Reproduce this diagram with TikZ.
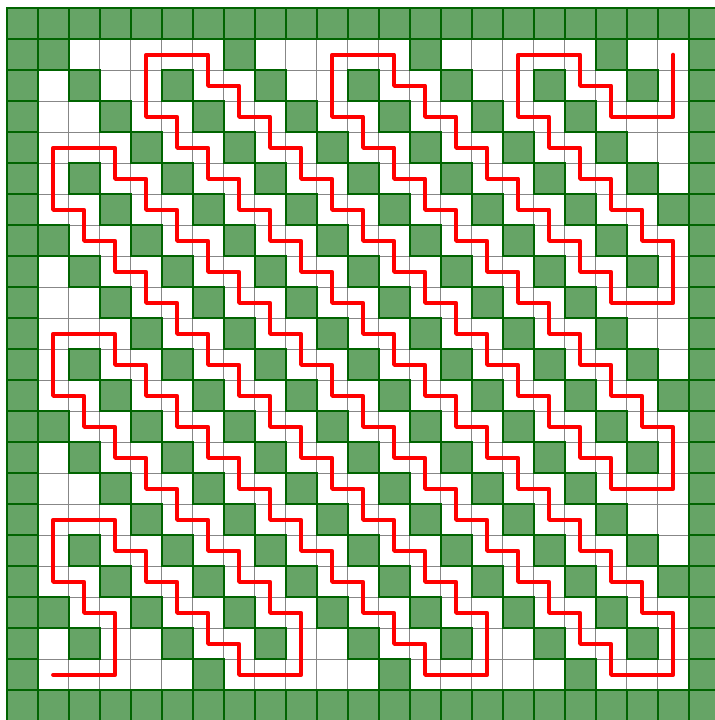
\documentclass[tikz,border=0pt]{standalone}
\definecolor{cellgreen}{RGB}{102,164,102}
\definecolor{edgegreen}{RGB}{0,100,0}
\definecolor{gridgray}{RGB}{135,135,135}
\tikzset{
  greencell/.style={fill=cellgreen, draw=edgegreen, line width=1.7pt},
  gridline/.style={draw=gridgray, line width=1.4pt},
  route/.style={draw=red, line width=3.8pt, line join=round, line cap=round}
}
\begin{document}
\begin{tikzpicture}[x=1cm,y=-1cm]
\useasboundingbox (-0.216,-0.268) rectangle (22.848,22.958);
\clip (-0.216,-0.268) rectangle (22.848,22.958);
% gray grid of all cells
\draw[gridline] (0,0) grid (23,23);
% green cells
\foreach \c in {0,...,22}{
  \foreach \r in {0,...,22}{
    \pgfmathtruncatemacro\ex{((\r==1 && mod(\c,6)==4) || (\c==1 && mod(\r,6)==4) || (\c==21 && mod(\r,6)==3) || (\r==21 && mod(\c,6)==3)) ? 1 : 0}
    \pgfmathtruncatemacro\g{(\c==0 || \c==22 || \r==0 || \r==22) ? 1 : ((mod(\c-\r+30,3)==0 && \ex==0) ? 1 : 0)}
    \ifnum\g=1
      \path[greencell] (\c,\r) rectangle ++(1,1);
    \fi
  }
}
% red route through cell centres
\begin{scope}[shift={(0.5,0.5)}]
\coordinate (start) at (1,21);
\coordinate (finish) at (21,1);
\draw[route] (start) -- (3,21) -- (3,19) -- (2,19) -- (2,18) -- (1,18) -- (1,16) -- (3,16)
  \foreach \i in {0,...,3}{ -- (3+\i,17+\i) -- (4+\i,17+\i) }
  -- (7,21) -- (9,21) -- (9,19)
  \foreach \i in {0,...,6}{ -- (8-\i,19-\i) -- (8-\i,18-\i) }
  -- (1,12) -- (1,10) -- (3,10)
  \foreach \i in {0,...,9}{ -- (3+\i,11+\i) -- (4+\i,11+\i) }
  -- (13,21) -- (15,21) -- (15,19)
  \foreach \i in {0,...,12}{ -- (14-\i,19-\i) -- (14-\i,18-\i) }
  -- (1,6) -- (1,4) -- (3,4)
  \foreach \i in {0,...,15}{ -- (3+\i,5+\i) -- (4+\i,5+\i) }
  -- (19,21) -- (21,21) -- (21,19)
  \foreach \i in {0,...,15}{ -- (20-\i,19-\i) -- (20-\i,18-\i) }
  -- (4,3) -- (4,1) -- (6,1)
  \foreach \i in {0,...,12}{ -- (6+\i,2+\i) -- (7+\i,2+\i) }
  -- (19,15) -- (21,15) -- (21,13)
  \foreach \i in {0,...,9}{ -- (20-\i,13-\i) -- (20-\i,12-\i) }
  -- (10,3) -- (10,1) -- (12,1)
  \foreach \i in {0,...,6}{ -- (12+\i,2+\i) -- (13+\i,2+\i) }
  -- (19,9) -- (21,9) -- (21,7)
  \foreach \i in {0,...,3}{ -- (20-\i,7-\i) -- (20-\i,6-\i) }
  -- (16,3) -- (16,1) -- (18,1) -- (18,2) -- (19,2) -- (19,3) -- (21,3) -- (finish);
\end{scope}
\end{tikzpicture}
\end{document}
